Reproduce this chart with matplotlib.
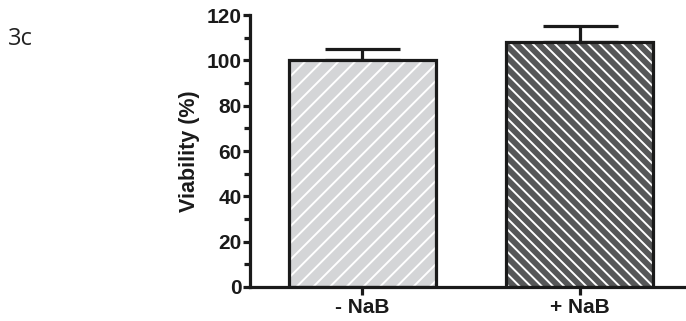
import matplotlib.pyplot as plt
from matplotlib.ticker import MultipleLocator

# data
groups = ['- NaB', '+ NaB']
viability = [100, 108]
sem = [5, 7]
fills = ['#d4d5d7', '#565758']
hatches = ['//', '\\\\\\']

plt.rcParams['font.family'] = ['Liberation Sans', 'DejaVu Sans']
plt.rcParams['hatch.linewidth'] = 1.4

fig = plt.figure(figsize=(6.86, 3.21), dpi=100)
ax = fig.add_axes([0.3644, 0.106, 0.6356, 0.847])

x = list(range(len(groups)))
lw = 2.3
ink = '#1a1a1a'

# hatch layer in white, then the black outline on top
for xi, v, c, h in zip(x, viability, fills, hatches):
    ax.bar(xi, v, width=0.68, color=c, edgecolor='white', hatch=h, linewidth=0, zorder=2)
ax.bar(x, viability, width=0.68, fill=False, edgecolor=ink, linewidth=lw, zorder=3)

# upper error bars only
ax.errorbar(x, viability, yerr=[[0, 0], sem], fmt='none', ecolor=ink,
            elinewidth=lw, capsize=27, capthick=lw, zorder=1)

ax.set_xlim(-0.518, 1.49)
ax.set_ylim(0, 120)
ax.set_xticks(x)
ax.set_xticklabels(groups, fontsize=15, fontweight='bold', color=ink)
ax.yaxis.set_major_locator(MultipleLocator(20))
ax.yaxis.set_minor_locator(MultipleLocator(10))
for lab in ax.get_yticklabels():
    lab.set_fontsize(15)
    lab.set_fontweight('bold')
    lab.set_color(ink)

ax.spines['top'].set_visible(False)
ax.spines['right'].set_visible(False)
for s in ['left', 'bottom']:
    ax.spines[s].set_linewidth(lw)
    ax.spines[s].set_color(ink)
ax.tick_params(axis='y', which='major', length=5, width=lw, color=ink, pad=1)
ax.tick_params(axis='y', which='minor', length=4, width=lw, color=ink)
ax.tick_params(axis='x', length=6, width=lw, color=ink, pad=2)

ax.set_ylabel('Viability (%)', fontsize=15.5, fontweight='bold', color=ink, labelpad=5)

fig.text(0.012, 0.86, '3c', fontsize=17, family='Open Sans', color='#222222')

fig.savefig('out.png', dpi=100)
